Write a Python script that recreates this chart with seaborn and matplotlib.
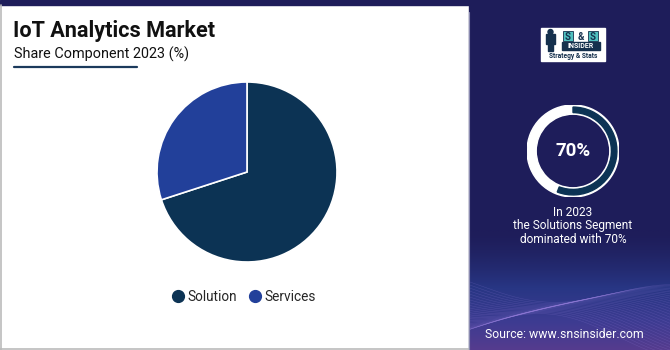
import numpy as np
import matplotlib
matplotlib.use("Agg")
import matplotlib.pyplot as plt
from matplotlib.patches import Rectangle, Wedge, Circle
from matplotlib.lines import Line2D
from matplotlib.colors import LinearSegmentedColormap
import seaborn as sns

# ---- data ----
categories = ["Solution", "Services"]
shares = [70, 30]
colors = ["#0c3354", "#22409a"]
title = "IoT Analytics Market"
subtitle = "Share Component 2023 (%)"
highlight_value = "70%"
highlight_text = "In 2023\nthe Solutions Segment\ndominated with 70%"
source_text = "Source: www.snsinsider.com"

sns.set_theme(style="white")
plt.rcParams['font.family'] = ['Roboto', 'DejaVu Sans']

W, H = 670, 350
fig = plt.figure(figsize=(W / 100, H / 100), dpi=100)

# background axis in pixel coords
bg = fig.add_axes([0, 0, 1, 1])
bg.set_xlim(0, W)
bg.set_ylim(H, 0)
bg.axis("off")
navy = "#1e1d5a"
bg.add_patch(Rectangle((0, 0), W, H, color="white", zorder=0))
bg.add_patch(Rectangle((0, 0), W, 5, color=navy, zorder=1))
bg.add_patch(Rectangle((469, 0), W - 469, H, color=navy, zorder=1))
bg.add_line(Line2D([0.5, 0.5], [5, H], color="#bbbbbb", lw=1.2, zorder=2))
bg.add_line(Line2D([0, 469], [H - 0.8, H - 0.8], color="#bbbbbb", lw=1.2, zorder=2))
bg.add_line(Line2D([469, 469], [12, H], color="#8a8ab0", lw=0.8, zorder=2))

# bottom gradient of right panel (decorative)
grad = np.linspace(0, 1, 200)[:, None] ** 1.5 * np.ones((1, 10))
cmap = LinearSegmentedColormap.from_list("g", [navy, "#283684", "#3d3c92", "#553b8e"])
bg.imshow(grad, extent=(470, W, 350, 230), origin="upper", cmap=cmap,
          aspect="auto", zorder=1.5)
xs = np.linspace(470, W, 200)
for i in range(30):
    ph = i * 0.1
    ys = 292 + 16 * np.sin((xs - 470) / 45 + ph) + i * 1.5 - 10 * np.cos((xs - 470) / 80)
    bg.plot(xs, ys, color="#9a82e0", lw=0.35, alpha=0.25, zorder=1.6)

# titles
bg.text(13, 37, title, fontsize=15.6, fontweight="bold", color="#111111", zorder=3)
bg.text(14, 59, subtitle, fontsize=10.4, color="#111111", zorder=3)
bg.add_line(Line2D([14, 137], [67, 67], color="#1b3a5c", lw=1.6, zorder=3))

# pie
pie_ax = fig.add_axes([157 / W, (H - 262) / H, 180 / W, 180 / H])
pie_ax.pie(shares, colors=colors, startangle=90, counterclock=False,
           wedgeprops=dict(edgecolor="white", linewidth=1.2))
pie_ax.set_aspect("equal")
pie_ax.set_xlim(-1.0, 1.0)
pie_ax.set_ylim(-1.0, 1.0)

handles = [Line2D([0], [0], marker="o", color="none", markerfacecolor=c,
                  markeredgecolor=c, markersize=8.5) for c in colors]
fig.legend(handles, categories, loc="center", bbox_to_anchor=(244 / W, 1 - 297 / H),
           ncol=2, frameon=False, fontsize=9.8, handletextpad=0.3, columnspacing=0.9,
           handlelength=0.8)

# ring indicator
ring_ax = fig.add_axes([527 / W, (H - 197) / H, 92 / W, 92 / H])
ring_ax.set_xlim(-1, 1)
ring_ax.set_ylim(-1, 1)
ring_ax.set_aspect("equal")
ring_ax.axis("off")
ring_ax.add_patch(Wedge((0, 0), 1.0, 0, 360, width=0.2, color="white"))
ring_ax.add_patch(Wedge((0, 0), 0.955, -111, 90, width=0.12, color="#0c3354"))
ring_ax.text(0, 0, highlight_value, ha="center", va="center", fontsize=13.5,
             fontweight="bold", color="white")

bg.text(573, 226, highlight_text, ha="center", va="center", fontsize=8.6,
        color="white", linespacing=1.05, zorder=3)
bg.text(564, 334, source_text, ha="center", va="center", fontsize=8.8,
        color="white", zorder=3)

# logo
bg.add_patch(Rectangle((541, 28), 64, 33, color="white", zorder=3))
bg.add_patch(Rectangle((546, 34), 9, 10, color="#15304d", zorder=4))
bg.add_patch(Rectangle((548, 44), 5, 7, color="#15304d", zorder=4))
bg.add_patch(Circle((550.5, 32), 2.5, color="#15304d", zorder=4))
bg.add_patch(Rectangle((563, 31), 10, 10, facecolor="#4fc0bf", edgecolor="#15304d", lw=0.6, zorder=4))
bg.add_patch(Rectangle((588, 31), 10, 10, facecolor="#4fc0bf", edgecolor="#15304d", lw=0.6, zorder=4))
bg.text(568, 36.5, "S", ha="center", va="center", fontsize=7, fontweight="bold", color="#15304d", zorder=5)
bg.text(580.5, 36.5, "&", ha="center", va="center", fontsize=7, fontweight="bold", color="#15304d", zorder=5)
bg.text(593, 36.5, "S", ha="center", va="center", fontsize=7, fontweight="bold", color="#15304d", zorder=5)
bg.add_patch(Rectangle((562, 42), 38, 8, color="#15304d", zorder=4))
bg.text(581, 46.3, "INSIDER", ha="center", va="center", fontsize=5, fontweight="bold", color="white", zorder=5)
bg.text(573, 56, "Strategy & Stats", ha="center", va="center", fontsize=4.8, fontweight="bold", color="#15304d", zorder=5)

fig.savefig("out.png", dpi=100)
